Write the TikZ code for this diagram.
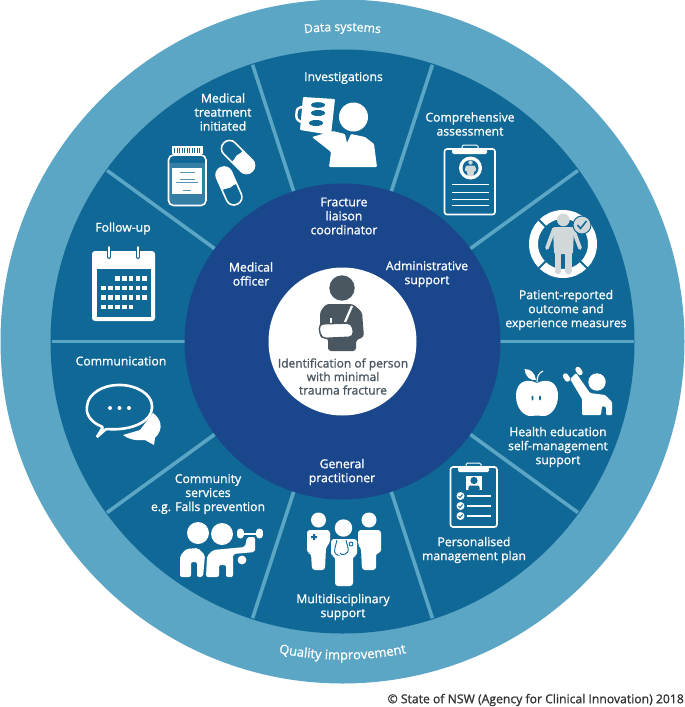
\documentclass[tikz,border=0pt]{standalone}
\usepackage{fontspec}
\setmainfont{Open Sans}[RawFeature={embolden=1.1}]
\usetikzlibrary{calc,positioning,decorations.text}
\definecolor{ringblue}{HTML}{5BA5C5}
\definecolor{midblue}{HTML}{0F6895}
\definecolor{deepblue}{HTML}{1A468C}
\definecolor{slate}{HTML}{4A5760}
\definecolor{palegrey}{HTML}{D2D7DA}
\newcommand{\lblfont}{\fontsize{12.2}{14}\selectfont\color{white}}
\newcommand{\ringfont}{\fontsize{13}{14}\selectfont\color{white}}
\begin{document}
\begin{tikzpicture}[x=1pt,y=-1pt,
    lbl/.style={align=center,inner sep=0pt,font=\lblfont},
    ico/.style={fill=white},
    icoline/.style={draw=white,line width=1.6pt},
    spoke/.style={draw=ringblue,line width=3.6pt},
    sq/.style={fill=white,minimum size=4.6pt,inner sep=0pt}]
  \useasboundingbox (0,0) rectangle (685,707);

  % rings
  \node[circle,fill=ringblue,minimum size=684pt,inner sep=0pt] (outer) at (342.5,341.5) {};
  \node[circle,fill=midblue,minimum size=584pt,inner sep=0pt] (middle) at (342.5,341.5) {};
  \foreach \a in {0,36,...,324}{
    \coordinate (s\a) at ($(middle.center)+(\a:291)$);
    \draw[spoke] (middle.center) -- (s\a);
  }
  \node[circle,fill=deepblue,minimum size=316pt,inner sep=0pt] (inner) at (342.5,341.5) {};
  \node[circle,fill=white,minimum size=148pt,inner sep=0pt] (core) at (342.5,341.5) {};

  % curved labels
  \path[decorate,decoration={text along path,text align=center,text={|\lblfont|Data systems}}]
    ($(outer.center)+(250:310.5)$) .. controls ($(outer.center)+(263.2:319)$) and ($(outer.center)+(276.8:319)$) .. ($(outer.center)+(290:310.5)$);
  \path[decorate,decoration={text along path,text align=center,text={|\ringfont|Quality improvement}}]
    ($(outer.center)+(110:318)$) .. controls ($(outer.center)+(96.8:326.7)$) and ($(outer.center)+(83.2:326.7)$) .. ($(outer.center)+(70:318)$);

  % segment labels
  \node[lbl] (invest) at (343.5,78) {Investigations};
  \node[lbl] (compr) at (470,124) {Comprehensive\\assessment};
  \node[lbl] (treat) at (223,112) {Medical\\treatment\\initiated};
  \node[lbl] (follow) at (123,228.5) {Follow-up};
  \node[lbl] (comm) at (121,361) {Communication};
  \node[lbl] (commun) at (208,494) {Community\\services\\e.g. Falls prevention};
  \node[lbl] (multi) at (343,607) {Multidisciplinary\\support};
  \node[lbl] (plan) at (474,550) {Personalised\\management plan};
  \node[lbl] (health) at (558,447) {Health education\\self-management\\support};
  \node[lbl] (prom) at (566,310) {Patient-reported\\outcome and\\experience measures};
  \node[lbl] (liaison) at (344,216) {Fracture\\liaison\\coordinator};
  \node[lbl] (medoff) at (251,274) {Medical\\officer};
  \node[lbl] (admin) at (427,274) {Administrative\\support};
  \node[lbl] (gp) at (342,472) {General\\practitioner};
  \node[align=center,inner sep=0pt,text=slate,font=\fontsize{12}{13.5}\selectfont] (ident) at (343,376.5) {Identification of person\\with minimal\\trauma fracture};
  \node[inner sep=0pt,anchor=east,text=black!80,font=\fontsize{12.2}{13}\selectfont] (copy) at (684,700) {© State of NSW (Agency for Clinical Innovation) 2018};

  % centre person
  \fill[slate] (342,288) circle (12.7);
  \fill[slate,rounded corners=3pt] (320,338) -- (320,312) -- (326,304) -- (353,304) -- (362,312) -- (364,337) -- (356,340) -- (356,351) -- (328,351) -- (328,338) -- cycle;
  \draw[white,line width=2.2pt] (352,306) -- (345,322);
  \fill[white] (330,318) rectangle (332,323);
  \draw[fill=white,draw=slate,line width=1.4pt,rounded corners=5pt] (318.5,324) -- (352,323) -- (354,337) -- (321,338.5) -- cycle;

  % investigations
  \fill[ico,rounded corners=1pt] (303,97) -- (335,99) -- (331,135) -- (300,130) -- cycle;
  \draw[icoline,line width=2.4pt,rounded corners=3pt] (303,107) -- (297,108) -- (296,119) -- (301,122);
  \fill[midblue] (318,105) ellipse (7 and 2.8) (318,113) ellipse (7 and 3) (316,123) ellipse (7 and 3);
  \fill[ico] (353.5,117) circle (14.5);
  \fill[ico,rounded corners=1pt] (312,137) -- (333,131) -- (345,134) -- (347,143) -- (351,134) -- (365,137) -- (374,144) -- (377,167) -- (329,167) -- (331,152) -- cycle;

  % clipboard with person
  \draw[icoline,rounded corners=2.5pt] (444.5,149) rectangle (495,214.5);
  \fill[ico,rounded corners=1.5pt] (452,149) rectangle (487,154);
  \draw[icoline,line width=1pt,rounded corners=1.5pt] (462,149) -- (462,145) -- (478,145) -- (478,149);
  \fill[ico] (470.5,168) circle (11.5);
  \fill[midblue] (470.5,168) circle (8);
  \fill[palegrey] (470.5,162.5) circle (2.2);
  \fill[palegrey,rounded corners=1pt] (466,165.5) -- (475,165.5) -- (476.5,171) -- (474,171) -- (473.5,176) -- (467.5,176) -- (467,171) -- (464.5,171) -- cycle;
  \foreach \y in {184,192,199,205}{
    \draw[white,line width=1pt] (452,\y) -- (489,\y);
  }

  % lifebuoy and person
  \draw[white,line width=9pt] (563,244) circle (29.5);
  \foreach \a in {45,135,225,315}{
    \draw[midblue,line width=2pt] ($(563,244)+(\a:24)$) -- ($(563,244)+(\a:35)$);
  }
  \fill[palegrey] (563.3,220) circle (6.3);
  \fill[palegrey,rounded corners=2pt] (553,227) -- (574,227) -- (573,254) -- (554,254) -- cycle;
  \draw[palegrey,line width=3.8pt,line cap=round] (554,229) -- (547,248) (573,229) -- (580,248);
  \draw[palegrey,line width=6.6pt,line cap=round] (558,250) -- (558,271) (568.6,250) -- (568.6,271);
  \fill[palegrey,draw=midblue,line width=1pt] (582,225) circle (9);
  \draw[midblue,line width=1.5pt] (577.5,225) -- (580.5,228.5) -- (586.5,221);

  % apple and raised arm
  \fill[ico] (537,383) .. controls (527,378) and (516,381) .. (516,396) .. controls (516,408) and (524,417) .. (532,416) .. controls (535,415.5) and (539,415.5) .. (542,416) .. controls (550,417) and (558,408) .. (558,396) .. controls (558,381) and (547,378) .. (537,383) -- cycle;
  \fill[ico] (524.5,369) .. controls (531,369) and (535,373) .. (536,380) .. controls (530,381) and (525,376) .. (524.5,369) -- cycle;
  \draw[white,line width=1.1pt] (537,382) .. controls (537,376) and (539,373) .. (543,371);
  \fill[midblue] (532.5,398) ellipse (1 and 2.5) (540,398) ellipse (1 and 2.5);
  \fill[ico] (597,382) circle (8.7);
  \fill[ico,rounded corners=1pt] (570,379) -- (576,373) -- (590,393) -- (605,395) -- (612,402) -- (612,415) -- (606,415) -- (606,407) -- (602,406) -- (601,415) -- (582,415) -- (582,399) -- cycle;
  \draw[white,line width=5.4pt,line cap=round] (565.5,376) -- (567.5,379) (578,369.5) -- (580,372.5);

  % clipboard with portrait and ticks
  \draw[icoline,rounded corners=2.5pt] (450.5,467) rectangle (497,527);
  \fill[ico,rounded corners=1.5pt] (458,467) rectangle (489,472);
  \draw[icoline,line width=1pt,rounded corners=1.5pt] (466,467) -- (466,463) -- (481,463) -- (481,467);
  \fill[ico] (466,476) rectangle (482,490);
  \fill[midblue] (474,480.5) circle (3.6);
  \fill[midblue,rounded corners=1pt] (468,490) -- (469,485.5) -- (479,485.5) -- (480,490) -- cycle;
  \foreach \y in {496,506,516}{
    \fill[ico] (460.5,\y) circle (4);
    \draw[midblue,line width=.9pt] (458.5,\y) -- (460,{\y+1.5}) -- (462.7,{\y-1.5});
    \draw[white,line width=1.1pt] (467,\y) -- (491,\y);
  }

  % three carers
  \fill[ico] (318.5,520) circle (7.5) (369,520) circle (7.5);
  \fill[ico,rounded corners=3pt] (307,530) -- (330,530) -- (330,543) -- (326,547) -- (325,570) -- (312,570) -- (311,553) -- (307,553) -- cycle;
  \fill[ico,rounded corners=3pt] (358,530) -- (381,530) -- (381,553) -- (376,553) -- (376,570) -- (362,570) -- (361,548) -- (358,545) -- cycle;
  \fill[midblue] (311,536) rectangle (317,538) (313,534) rectangle (315,540);
  \fill[ico] (343.5,528) circle (8.7);
  \fill[ico,rounded corners=3pt] (331,539) -- (357,539) -- (357,556) -- (353,556) -- (353,586) -- (335,586) -- (335,556) -- (331,556) -- cycle;
  \draw[midblue,line width=.9pt] (337,540) -- (335,548) .. controls (333,556) and (340,555) .. (337,555) (346,540) -- (348,548) .. controls (350,555) and (340,556) .. (340,553);
  \draw[midblue,line width=.9pt] (351,544) circle (2);

  % community services
  \fill[ico] (198,533) circle (11) (222,534) circle (11);
  \fill[ico,rounded corners=2pt] (180,577) -- (180,556) -- (186,549) -- (198,548) -- (205,555) -- (203,577) -- (197,577) -- (197,562) -- (191,562) -- (191,577) -- cycle;
  \fill[ico,rounded corners=2pt] (206,577) -- (207,556) -- (213,550) -- (245,547) -- (247,537) -- (255,537) -- (255,552) -- (233,554) -- (233,577) -- (226,577) -- (226,565) -- (219,565) -- (219,577) -- cycle;
  \fill[ico] (242,560) circle (4.4);
  \draw[white,line width=7pt,line cap=round] (240,532) -- (240,535) (259.5,532) -- (259.5,535);
  \draw[white,line width=2pt] (240,534) -- (259,534);

  % speech bubbles
  \fill[ico] (153,413) .. controls (160,418) and (165,428) .. (155,438) -- (154,445) -- (145,440) .. controls (135,441) and (128,439) .. (123,435) -- (140,430) -- cycle;
  \draw[icoline,line width=2.6pt,fill=midblue,rounded corners=1pt] (103,427) .. controls (92,423) and (86,415) .. (87,407) .. controls (88,393) and (104,385) .. (119,385) .. controls (136,385) and (152,394) .. (152,407) .. controls (152,420) and (134,431) .. (106,429) -- (97,437) -- cycle;
  \fill[ico] (110,408) circle (2) (119.5,408) circle (2) (129,408) circle (2);

  % calendar
  \fill[ico,rounded corners=3pt] (92,251) rectangle (155,321);
  \fill[midblue] (97,268.5) rectangle (151,317);
  \foreach \x in {109,138}{
    \draw[midblue,line width=4pt,line cap=round] (\x,247) -- (\x,257);
    \draw[white,line width=1.8pt,line cap=round] (\x,247) -- (\x,257);
  }
  \foreach \x in {117.4,124.3,131.1,137.9,144.6}{
    \node[sq] (c1x\x) at (\x,278.5) {};
  }
  \foreach \x in {103.5,110.4,117.4,124.3,131.1,137.9,144.6}{
    \node[sq] (c2x\x) at (\x,288) {};
    \node[sq] (c3x\x) at (\x,297.5) {};
  }
  \foreach \x in {103.5,110.4,117.4,124.3,131.1}{
    \node[sq] (c4x\x) at (\x,307) {};
  }

  % bottle and pills
  \fill[midblue!85!white] (169,163) rectangle (205,205);
  \draw[icoline,rounded corners=5pt] (168.5,155) rectangle (206,205.5);
  \fill[ico] (172,146) rectangle (203,154);
  \foreach \x in {174.5,177,...,201}{
    \draw[midblue,line width=.5pt] (\x,147.5) -- (\x,152.5);
  }
  \fill[ico] (172,168) rectangle (202,194);
  \draw[midblue!70!white,line width=.8pt] (180,172) -- (195,172) (180,179) -- (195,179) (176,182.5) -- (198,182.5) (183,190) -- (191,190);
  \begin{scope}[shift={(238,157)},rotate=-45]
    \fill[white,rounded corners=7.8pt] (-2,-8) rectangle (20,8);
    \fill[white] (-1,-8) rectangle (8,8);
    \draw[icoline,rounded corners=7.8pt] (-20,-8) rectangle (20,8);
  \end{scope}
  \begin{scope}[shift={(229,186)},rotate=-66]
    \fill[white,rounded corners=7.8pt] (-20,-8) rectangle (2,8);
    \fill[white] (-8,-8) rectangle (1,8);
    \draw[icoline,rounded corners=7.8pt] (-20,-8) rectangle (20,8);
  \end{scope}
\end{tikzpicture}
\end{document}
